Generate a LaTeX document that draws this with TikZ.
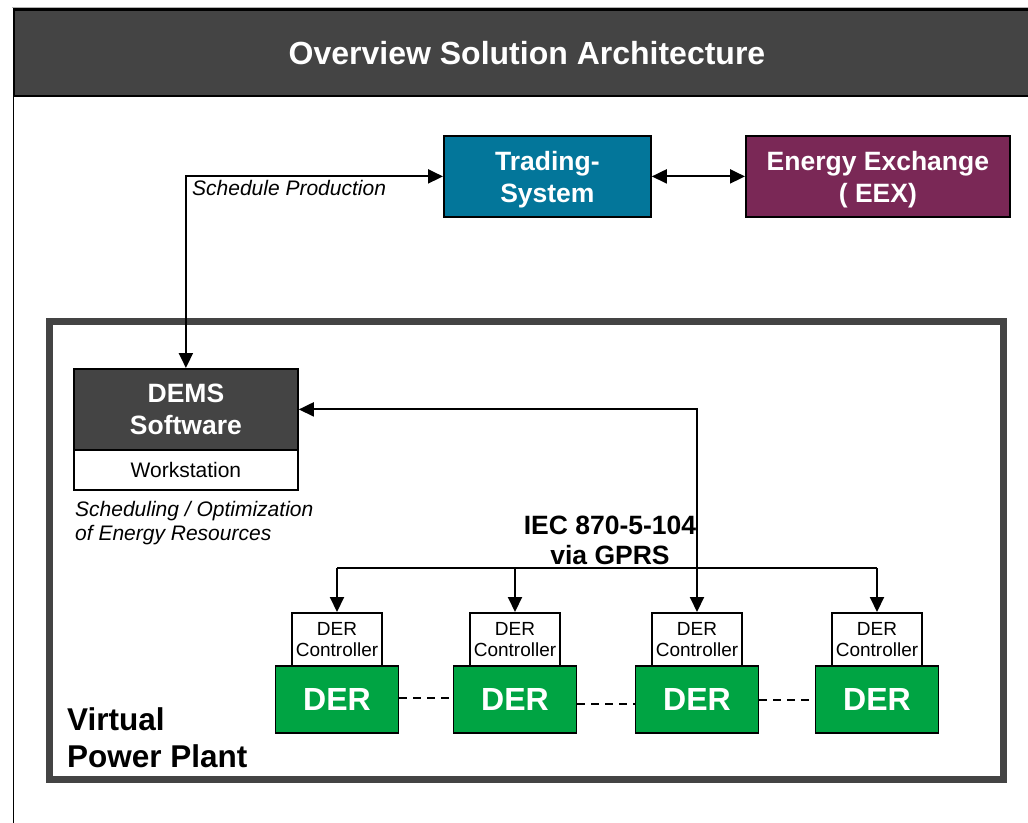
\documentclass[tikz,border=0pt]{standalone}
\usepackage{fontspec}
\setmainfont{Liberation Sans}
\usetikzlibrary{arrows.meta}
\definecolor{darkgrey}{HTML}{444444}
\definecolor{tradeblue}{HTML}{03769A}
\definecolor{eexpurple}{HTML}{7A2856}
\definecolor{dergreen}{HTML}{00A443}

\begin{document}
\begin{tikzpicture}[x=1pt,y=-1pt,
  box/.style={draw=black, line width=1.8pt, inner sep=0pt, align=center},
  bigtext/.style={font=\bfseries\fontsize{26.5}{32}\selectfont, text=white},
  toptext/.style={bigtext, align=center, inner sep=0pt, yshift=-3pt},
  ctrlbox/.style={box, fill=white, minimum width=90pt, minimum height=53pt, anchor=north,
    font=\fontsize{19}{21}\selectfont},
  derbox/.style={box, fill=dergreen, minimum width=123pt, minimum height=67pt, anchor=north,
    font=\bfseries\fontsize{32}{36}\selectfont, text=white},
  link/.style={line width=2pt, -{Triangle[length=15pt,width=14pt]}},
  dlink/.style={line width=2pt, {Triangle[length=15pt,width=14pt]}-{Triangle[length=15pt,width=14pt]}},
  wire/.style={line width=2pt},
  dashlink/.style={line width=2pt, dash pattern=on 8pt off 6pt},
]
\useasboundingbox (0,0) rectangle (1028,822);

% page frame and header bar
\draw[line width=1pt, gray!60] (12,7) -- (1040,7);
\draw[line width=1.6pt, black] (13.5,9) rectangle (1045,830);
\node[draw=black, line width=2.2pt, fill=darkgrey, minimum width=1033pt, minimum height=86pt,
      anchor=north west, inner sep=0pt] (header) at (13,9) {};
\node[font=\bfseries\fontsize{32}{36}\selectfont, text=white] (title) at (527,53)
  {Overview Solution Architecture};

% virtual power plant frame
\draw[darkgrey, line width=7pt] (49.5,321.5) rectangle (1003.5,779.5);

% trading side
\node[box, fill=tradeblue, minimum width=207pt, minimum height=81pt, anchor=north west,
      label={[toptext]center:Trading-\\System}] (trade) at (443,135) {};
\node[box, fill=eexpurple, minimum width=264pt, minimum height=81pt, anchor=north west,
      label={[toptext]center:Energy Exchange\\( EEX)}] (eex) at (745,135) {};

% control centre
\node[box, fill=darkgrey, bigtext, minimum width=224pt, minimum height=81pt, anchor=north west]
  (dems) at (73,368) {DEMS\\Software};
\node[box, fill=white, font=\fontsize{21}{24}\selectfont, minimum width=224pt, minimum height=40pt,
      anchor=north west] (ws) at (73,449) {Workstation};
\node[font=\itshape\fontsize{21}{24}\selectfont, align=left, anchor=north west, inner sep=0pt]
  (sched) at (75,501) {Scheduling / Optimization\\of Energy Resources};

% distributed energy resources
\foreach \i/\x in {1/337,2/515,3/697,4/877}{
  \node[ctrlbox] (c\i) at (\x,612) {DER\\Controller};
  \node[derbox] (d\i) at (\x,665) {DER};
}

\node[font=\bfseries\fontsize{26.5}{30}\selectfont, align=center] (iec) at (610,540)
  {IEC 870-5-104\\via GPRS};
\node[font=\bfseries\fontsize{31.5}{37}\selectfont, align=left, anchor=north west, inner sep=0pt]
  (vpp) at (67,707) {Virtual\\Power Plant};

% connectors
\draw[dlink] (trade.east) -- (eex.west);
\draw[dlink] (dems.north) |- (trade.west);
\node[font=\itshape\fontsize{21}{24}\selectfont, anchor=west, inner sep=0pt] (schedprod) at (192,188)
  {Schedule Production};
\draw[dlink] (dems.east) -| (c3.north);

\coordinate (bus) at (0,568);
\draw[wire] (c1.north |- bus) -- (c4.north |- bus);
\foreach \i in {1,2,4}{
  \draw[link] (c\i.north |- bus) -- (c\i.north);
}

\draw[dashlink] ([yshift=1pt]d1.east) -- ([yshift=1pt]d2.west);
\draw[dashlink] ([yshift=-5pt]d2.east) -- ([yshift=-5pt]d3.west);
\draw[dashlink] ([yshift=-1pt]d3.east) -- ([yshift=-1pt]d4.west);
\end{tikzpicture}
\end{document}
